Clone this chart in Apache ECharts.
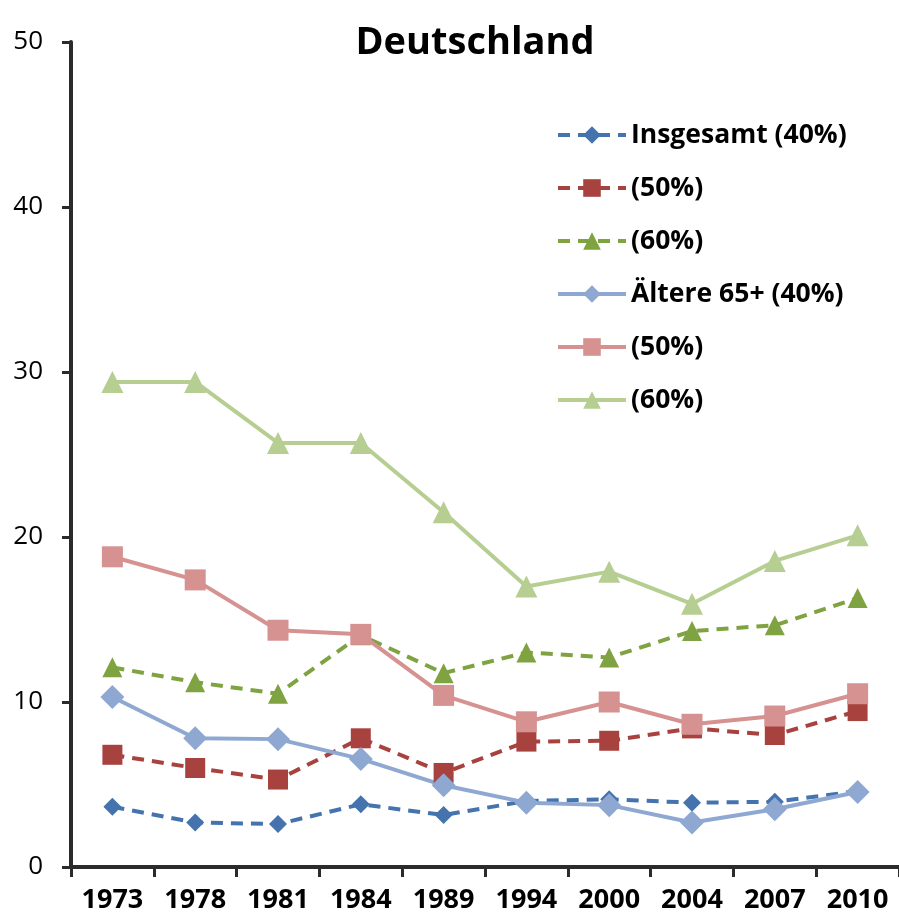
<!DOCTYPE html>
<html>
<head>
<meta charset="utf-8">
<script src="https://cdn.jsdelivr.net/npm/echarts@6/dist/echarts.min.js"></script>
<style>
html, body { margin: 0; padding: 0; background: #fff; }
#main { width: 899px; height: 922px; }
</style>
</head>
<body>
<div id="main"></div>
<script>
var years = ['1973', '1978', '1981', '1984', '1989', '1994', '2000', '2004', '2007', '2010'];
var names = ['Insgesamt (40%)', '(50%) ', '(60%) ', 'Ältere 65+ (40%)', '(50%)', '(60%)'];

// Insgesamt, gestrichelt
var gesamt40 = [3.65, 2.7, 2.6, 3.8, 3.15, 4.0, 4.1, 3.9, 3.95, 4.6];
var gesamt50 = [6.8, 6.0, 5.3, 7.8, 5.7, 7.6, 7.65, 8.4, 8.0, 9.45];
var gesamt60 = [12.1, 11.2, 10.5, 14.05, 11.75, 13.0, 12.7, 14.3, 14.65, 16.3];
// Ältere 65+, durchgezogen
var aeltere40 = [10.3, 7.8, 7.75, 6.55, 4.95, 3.9, 3.75, 2.7, 3.5, 4.55];
var aeltere50 = [18.8, 17.4, 14.35, 14.1, 10.4, 8.8, 10.0, 8.65, 9.15, 10.5];
var aeltere60 = [29.4, 29.4, 25.7, 25.7, 21.5, 17.0, 17.9, 15.95, 18.55, 20.1];

var font = 'Open Sans';
var chart = echarts.init(document.getElementById('main'));

function makeSeries(name, data, color, symbol, size, dashed) {
    return {
        name: name,
        type: 'line',
        data: data,
        symbol: symbol,
        symbolSize: size,
        showAllSymbol: true,
        itemStyle: { color: color },
        lineStyle: {
            color: color,
            width: 4,
            type: dashed ? [12, 8] : 'solid'
        },
        emphasis: { disabled: true }
    };
}

chart.setOption({
    animation: false,
    title: {
        text: 'Deutschland',
        left: 470,
        top: 19,
        textAlign: 'center',
        textStyle: { fontFamily: font, fontWeight: 'bold', fontSize: 38, color: '#000' }
    },
    legend: {
        orient: 'vertical',
        left: 551,
        top: 115,
        itemGap: 23,
        itemWidth: 68,
        itemHeight: 22,
        data: names,
        lineStyle: { width: 4 },
        textStyle: { fontFamily: font, fontWeight: 'bold', fontSize: 26.5, lineHeight: 30, color: '#000' }
    },
    grid: { left: 71, top: 42, width: 833, height: 825 },
    xAxis: {
        type: 'category',
        data: years,
        boundaryGap: true,
        axisLine: { lineStyle: { color: '#2b2b2b', width: 4 } },
        axisTick: { show: true, interval: 0, length: 10, lineStyle: { color: '#2b2b2b', width: 3 } },
        axisLabel: { interval: 0, fontFamily: font, fontWeight: 'bold', fontSize: 27, color: '#000', margin: 20 },
        splitLine: { show: false }
    },
    yAxis: {
        type: 'value',
        min: 0,
        max: 50,
        interval: 10,
        axisLine: { show: true, lineStyle: { color: '#2b2b2b', width: 4 } },
        axisTick: { show: true, length: 9, lineStyle: { color: '#2b2b2b', width: 3 } },
        axisLabel: { fontFamily: font, fontSize: 26, color: '#000', margin: 28 },
        splitLine: { show: false }
    },
    series: [
        makeSeries(names[0], gesamt40, '#4473AE', 'diamond', 18, true),
        makeSeries(names[1], gesamt50, '#A8423F', 'rect', 20, true),
        makeSeries(names[2], gesamt60, '#7FA340', 'triangle', 20, true),
        makeSeries(names[3], aeltere40, '#8EA8D2', 'diamond', 24, false),
        makeSeries(names[4], aeltere50, '#D69191', 'rect', 21, false),
        makeSeries(names[5], aeltere60, '#B6CE91', 'triangle', 22, false)
    ]
});
</script>
</body>
</html>
